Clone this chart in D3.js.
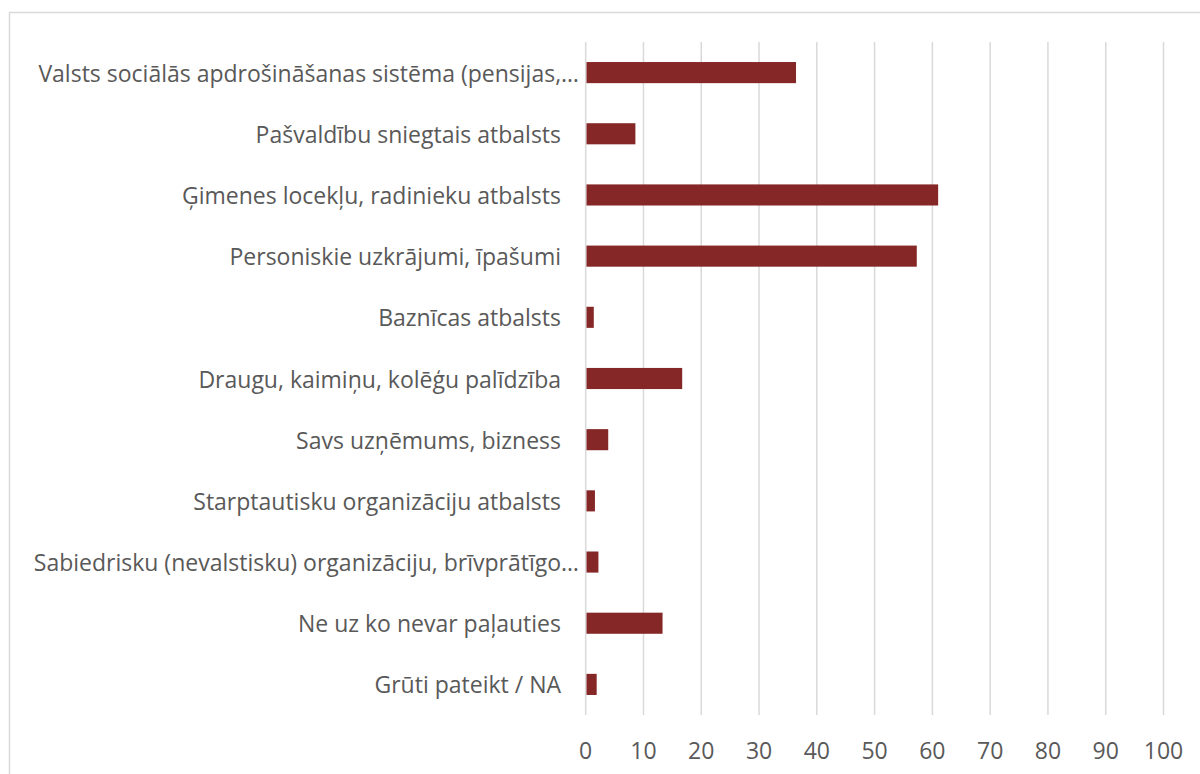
<!DOCTYPE html>
<html>
<head>
<meta charset="utf-8">
<script src="https://cdn.jsdelivr.net/npm/d3@7"></script>
<style>
  body { margin: 0; background: #fff; }
  svg { display: block; }
  text { font-family: "Open Sans", "Noto Sans", sans-serif; fill: #595959; }
</style>
</head>
<body>
<svg id="vis" width="1200" height="774"></svg>
<script>
// categories, top to bottom
const categories = [
  'Valsts sociālās apdrošināšanas sistēma (pensijas,…',
  'Pašvaldību sniegtais atbalsts',
  'Ģimenes locekļu, radinieku atbalsts',
  'Personiskie uzkrājumi, īpašumi',
  'Baznīcas atbalsts',
  'Draugu, kaimiņu, kolēģu palīdzība',
  'Savs uzņēmums, bizness',
  'Starptautisku organizāciju atbalsts',
  'Sabiedrisku (nevalstisku) organizāciju, brīvprātīgo…',
  'Ne uz ko nevar paļauties',
  'Grūti pateikt / NA'
];
const values = [36.4, 8.6, 61.0, 57.3, 1.4, 16.7, 3.9, 1.6, 2.2, 13.3, 1.9];
const xTicks = [0, 10, 20, 30, 40, 50, 60, 70, 80, 90, 100];

const svg = d3.select('#vis');

// chart frame
svg.append('rect')
  .attr('x', 9.5).attr('y', 12.5)
  .attr('width', 1200).attr('height', 800)
  .attr('fill', 'none')
  .attr('stroke', '#d9d9d9')
  .attr('stroke-width', 1.5);

const plot = { left: 585.7, right: 1163.5, top: 42, bottom: 715 };

const x = d3.scaleLinear().domain([0, 100]).range([plot.left, plot.right]);
const y = d3.scaleBand().domain(categories).range([plot.top, plot.bottom]).paddingInner(0.655).paddingOuter(0.3275);

// gridlines
svg.append('g')
  .selectAll('line')
  .data(xTicks)
  .join('line')
    .attr('x1', d => x(d)).attr('x2', d => x(d))
    .attr('y1', plot.top).attr('y2', plot.bottom)
    .attr('stroke', '#d9d9d9')
    .attr('stroke-width', 1.5);

// bars
svg.append('g')
  .selectAll('rect')
  .data(values)
  .join('rect')
    .attr('x', x(0) + 0.8)
    .attr('y', (d, i) => y(categories[i]))
    .attr('width', d => x(d) - x(0) - 0.8)
    .attr('height', y.bandwidth())
    .attr('fill', '#862727');

// category labels (truncated ones run a bit further right, like Excel)
svg.append('g')
  .selectAll('text')
  .data(categories)
  .join('text')
    .attr('x', d => d.endsWith('…') ? 579 : 561)
    .attr('y', d => y(d) + y.bandwidth() / 2)
    .attr('text-anchor', 'end')
    .attr('dominant-baseline', 'central')
    .style('font-size', '23px')
    .text(d => d);

// x tick labels
svg.append('g')
  .selectAll('text')
  .data(xTicks)
  .join('text')
    .attr('x', d => x(d))
    .attr('y', 750)
    .attr('text-anchor', 'middle')
    .attr('dominant-baseline', 'central')
    .style('font-size', '23px')
    .text(d => d);
</script>
</body>
</html>
